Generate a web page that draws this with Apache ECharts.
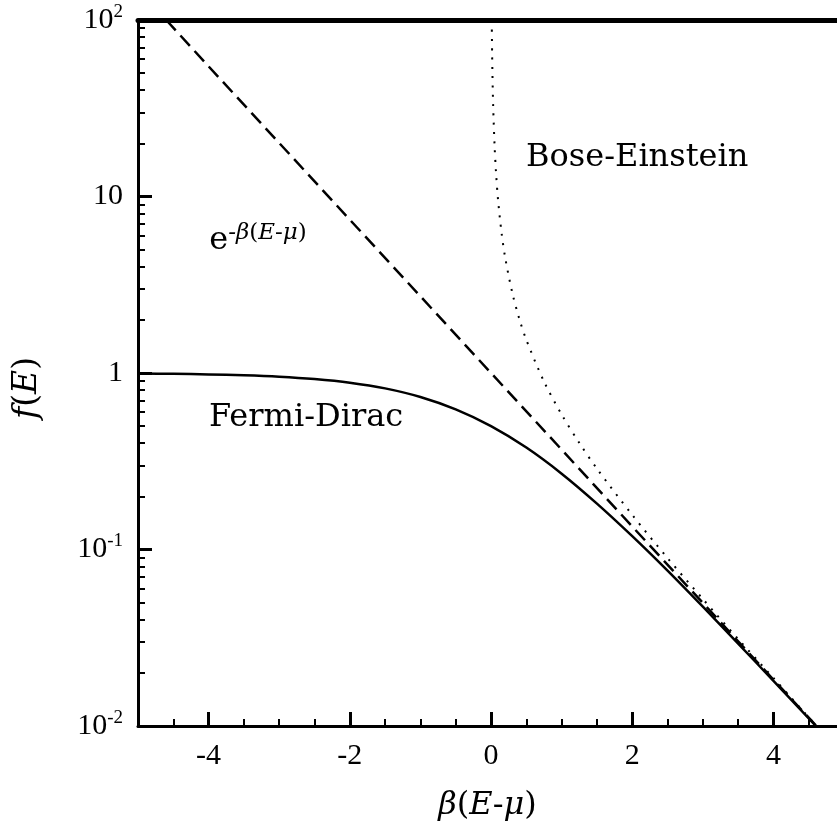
<!DOCTYPE html>
<html>
<head>
<meta charset="utf-8">
<script src="https://cdn.jsdelivr.net/npm/echarts@6/dist/echarts.min.js"></script>
<style>
  html, body { margin: 0; padding: 0; background: #fff; }
  #chart { width: 837px; height: 829px; }
</style>
</head>
<body>
<div id="chart"></div>
<script>
"use strict";
// 分布函数数据
var fdX = [-5, -4.5, -4, -3.5, -3, -2.5, -2, -1.5, -1, -0.5, 0, 0.5, 1, 1.5, 2, 2.5, 3, 3.5, 4, 4.6];
var fdY = [0.993, 0.989, 0.982, 0.971, 0.953, 0.924, 0.881, 0.818, 0.731, 0.622, 0.5, 0.378, 0.269, 0.182, 0.119, 0.0759, 0.0474, 0.0293, 0.018, 0.0100];

var mbX = [-4.6, -4, -3, -2, -1, 0, 1, 2, 3, 4, 4.6];
var mbY = [100, 54.6, 20.1, 7.39, 2.72, 1, 0.368, 0.135, 0.0498, 0.0183, 0.0101];

var beX = [0.01, 0.015, 0.02, 0.03, 0.05, 0.07, 0.1, 0.15, 0.2, 0.3, 0.4, 0.5, 0.75, 1, 1.25, 1.5, 2, 2.5, 3, 3.5, 4, 4.6];
var beY = [99.5, 66.2, 49.5, 32.8, 19.5, 13.8, 9.51, 6.18, 4.52, 2.86, 2.03, 1.54, 0.895, 0.582, 0.402, 0.287, 0.157, 0.0894, 0.0524, 0.0311, 0.0187, 0.0101];

// 刻度
var xMajorTicks = [-4, -2, 0, 2, 4];
var xMinorTicks = [-4.5, -3.5, -3, -2.5, -1.5, -1, -0.5, 0.5, 1, 1.5, 2.5, 3, 3.5, 4.5];
var yMinorTicks = [0.02, 0.03, 0.04, 0.05, 0.06, 0.07, 0.08, 0.09,
                   0.2, 0.3, 0.4, 0.5, 0.6, 0.7, 0.8, 0.9,
                   2, 3, 4, 5, 6, 7, 8, 9,
                   20, 30, 40, 50, 60, 70, 80, 90];

var SERIF = 'DejaVu Serif';
var TICKFONT = 'Liberation Serif';

function pairs(xs, ys) {
    return xs.map(function (x, i) { return [x, ys[i]]; });
}

function yLabel(value) {
    var p = Math.round(Math.log10(value));
    if (p === 0) return '1';
    if (p === 1) return '10';
    return '10{sup|' + p + '}';
}

var myChart = echarts.init(document.getElementById('chart'));

var baseX = {
    type: 'value', min: -5, max: 4.9,
    splitLine: { show: false }
};
var baseY = {
    type: 'log', logBase: 10, min: 0.01, max: 100,
    splitLine: { show: false }
};

var option = {
    backgroundColor: '#fff',
    animation: false,
    grid: { left: 138, right: 0, top: 20, bottom: 103, outerBoundsMode: 'none' },
    xAxis: [
        Object.assign({}, baseX, {
            position: 'bottom',
            axisLine: { onZero: false, lineStyle: { color: '#000', width: 3 } },
            axisTick: { inside: true, length: 7, customValues: xMinorTicks, lineStyle: { color: '#000', width: 2 } },
            axisLabel: { customValues: xMajorTicks, color: '#000', fontFamily: TICKFONT, fontSize: 30, margin: 15 },
            name: '{i|β}({i|E}-{i|μ})',
            nameLocation: 'middle',
            nameGap: 64,
            nameTextStyle: {
                color: '#000', fontFamily: SERIF, fontSize: 32,
                rich: { i: { fontStyle: 'italic', fontFamily: SERIF, fontSize: 32, color: '#000' } }
            }
        }),
        Object.assign({}, baseX, {
            position: 'bottom',
            axisLine: { show: false, onZero: false },
            axisTick: { inside: true, length: 14, customValues: xMajorTicks, lineStyle: { color: '#000', width: 3 } },
            axisLabel: { show: false }
        }),
        Object.assign({}, baseX, {
            position: 'top',
            axisLine: { onZero: false, lineStyle: { color: '#000', width: 5 } },
            axisTick: { show: false },
            axisLabel: { show: false }
        })
    ],
    yAxis: [
        Object.assign({}, baseY, {
            position: 'left',
            axisLine: { onZero: false, lineStyle: { color: '#000', width: 3 } },
            axisTick: { inside: true, length: 14, lineStyle: { color: '#000', width: 3 } },
            axisLabel: {
                color: '#000', fontFamily: TICKFONT, fontSize: 30, margin: 15,
                formatter: yLabel,
                rich: {
                    sup: { fontFamily: TICKFONT, fontSize: 19, color: '#000', verticalAlign: 'top', padding: [0, 0, 16, 0] }
                }
            },
            name: '{i|f}({i|E})',
            nameLocation: 'middle',
            nameRotate: 90,
            nameGap: 94,
            nameTextStyle: {
                color: '#000', fontFamily: SERIF, fontSize: 33,
                padding: [0, 30, 0, 0],
                rich: { i: { fontStyle: 'italic', fontFamily: SERIF, fontSize: 33, color: '#000' } }
            }
        }),
        Object.assign({}, baseY, {
            position: 'left',
            axisLine: { show: false, onZero: false },
            axisTick: { inside: true, length: 7, customValues: yMinorTicks, lineStyle: { color: '#000', width: 2 } },
            axisLabel: { show: false }
        })
    ],
    series: [
        {
            name: 'Fermi-Dirac',
            type: 'line',
            data: pairs(fdX, fdY),
            showSymbol: false,
            smooth: 0.3,
            lineStyle: { color: '#000', width: 2.5 },
            markPoint: {
                symbol: 'circle', symbolSize: 0,
                label: { show: true, position: 'inside', color: '#000', fontFamily: SERIF, fontSize: 32, formatter: 'Fermi-Dirac' },
                data: [{ coord: [-2.62, 0.556], value: 'FD' }]
            }
        },
        {
            name: 'Boltzmann',
            type: 'line',
            data: pairs(mbX, mbY),
            showSymbol: false,
            lineStyle: { color: '#000', width: 2.5, type: [14, 7] },
            markPoint: {
                symbol: 'circle', symbolSize: 0,
                label: {
                    show: true, position: 'inside', color: '#000', fontFamily: SERIF,
                    formatter: '{b|e}{i|-β}{s|(}{i|E}{s|-}{i|μ}{s|)}',
                    rich: {
                        b: { fontFamily: SERIF, fontSize: 32, color: '#000' },
                        i: { fontFamily: SERIF, fontSize: 23, fontStyle: 'italic', color: '#000', verticalAlign: 'top', padding: [0, 0, 16, 0] },
                        s: { fontFamily: SERIF, fontSize: 23, color: '#000', verticalAlign: 'top', padding: [0, 0, 16, 0] }
                    }
                },
                data: [{ coord: [-3.3, 5.6], value: 'MB' }]
            }
        },
        {
            name: 'Bose-Einstein',
            type: 'line',
            data: pairs(beX, beY),
            showSymbol: false,
            smooth: 0.3,
            lineStyle: { color: '#000', width: 2, type: [2, 7.3] },
            markPoint: {
                symbol: 'circle', symbolSize: 0,
                label: { show: true, position: 'inside', color: '#000', fontFamily: SERIF, fontSize: 32, formatter: 'Bose-Einstein' },
                data: [{ coord: [2.07, 16.5], value: 'BE' }]
            }
        }
    ]
};

myChart.setOption(option);

window.onresize = function () {
    myChart.resize();
};
</script>
</body>
</html>
